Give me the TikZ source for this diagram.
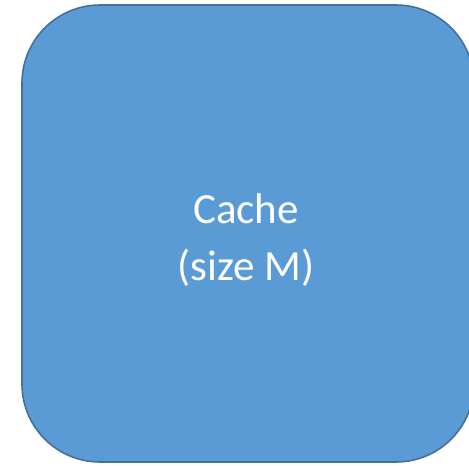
\documentclass[tikz,border=0pt]{standalone}
\usepackage{fontspec}
\setmainfont{Carlito}
\definecolor{boxfill}{HTML}{5B9BD5}
\definecolor{boxline}{HTML}{41719C}
\tikzset{cachebox/.style={draw=boxline, line width=1.6pt, fill=boxfill, rounded corners=78pt},
  cachetext/.style={text=white, align=center, font=\fontsize{43}{57}\selectfont}}
\begin{document}
\begin{tikzpicture}[x=1pt,y=-1pt]
\useasboundingbox (0,0) rectangle (469,466);
\draw[cachebox] (22,5) rectangle (474,462);
\node[cachetext] (cache) at (246,240) {Cache\\(size M)};
\end{tikzpicture}
\end{document}
